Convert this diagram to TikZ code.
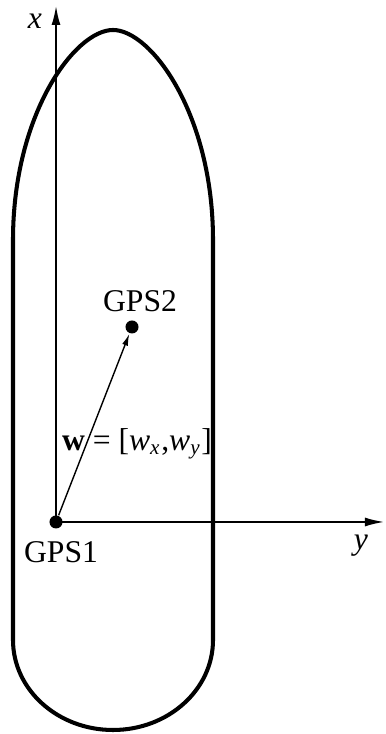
\documentclass[tikz,border=0pt]{standalone}
\usepackage{fontspec}
\setmainfont{Liberation Serif}
\usepackage{tikz}
\usetikzlibrary{arrows.meta,positioning,calc}
\definecolor{Ink}{HTML}{000000}
\tikzset{
  hull/.style={draw=Ink,line width=1.15pt},
  axis/.style={draw=Ink,line width=0.7pt,-{Latex[length=0.2cm,width=0.09cm]}},
  vec/.style={draw=Ink,line width=0.4pt,-{Latex[length=0.12cm,width=0.06cm]}},
  gpsdot/.style={circle,fill=Ink,inner sep=0pt,minimum width=0.13cm,minimum height=0.12cm},
  lbl/.style={font=\fontsize{9}{10}\selectfont,inner sep=1pt}
}

\begin{document}
\begin{tikzpicture}[x=0.01cm,y=0.01cm]
\useasboundingbox (0,0) rectangle (385,734);
% hull outline
\draw[hull] (13,94) -- (13,494) .. controls (13,620) and (75,704) .. (113,704)
  .. controls (151,704) and (213,620) .. (213,494)
  -- (213,94) arc[start angle=0,end angle=-180,x radius=100,y radius=90] -- cycle;
% axes
\coordinate (xtip) at (56,729);
\coordinate (ytip) at (385,212);
\node[gpsdot] (gps1) at (56,212) {};
\node[gpsdot] (gps2) at (132,407) {};
\draw[axis] (gps1.center) -- (xtip);
\draw[axis] (gps1.center) -- (ytip);
\node[lbl] (xlab) at (35,713) {\textit{x}};
\node[lbl] (ylab) at (361,188) {\textit{y}};
% baseline
\draw[vec] (gps1) -- (gps2);
\node[lbl] (gps2lab) at (140,433) {GPS2};
\node[lbl] (gps1lab) at (61,182) {GPS1};
\node[lbl] (wlab) at (137,290) {\textbf{w} = [\textit{w}\textsubscript{\textit{x}},\textit{w}\textsubscript{\textit{y}}]};
\end{tikzpicture}
\end{document}
